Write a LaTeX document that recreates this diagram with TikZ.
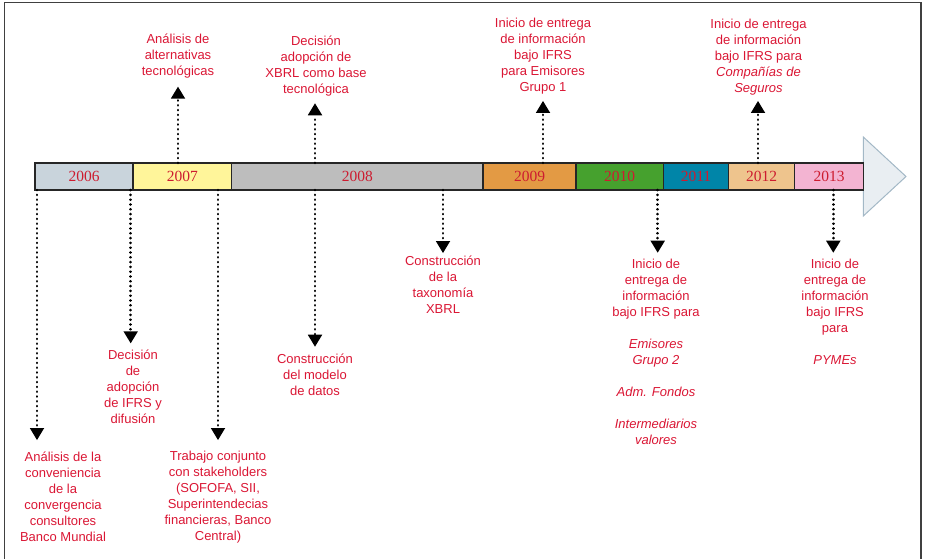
\documentclass[tikz,border=0pt]{standalone}
\usepackage{fontspec}
\setmainfont{Liberation Sans}
\newfontfamily\yrfont{Liberation Serif}
\usetikzlibrary{arrows.meta}
\definecolor{lblred}{RGB}{218,22,52}
\definecolor{yrred}{RGB}{205,28,48}
\definecolor{c2006}{HTML}{C9D4DC}
\definecolor{c2007}{HTML}{FFF59A}
\definecolor{c2008}{HTML}{BDBDBD}
\definecolor{c2009}{HTML}{E39A44}
\definecolor{c2010}{HTML}{46A12E}
\definecolor{c2011}{HTML}{0085A8}
\definecolor{c2012}{HTML}{EEC48D}
\definecolor{c2013}{HTML}{F3B4D2}
\definecolor{arrfill}{HTML}{E9EEF2}
\definecolor{arrline}{HTML}{A3B8C6}
\definecolor{framec}{HTML}{404040}
\newcommand\lstrut{\rule[-4.8pt]{0pt}{16pt}}
\tikzset{
  seg/.style={draw=black!85, line width=1.1pt, minimum height=27pt, inner sep=0pt, outer sep=0pt,
    font=\yrfont\fontsize{15.5}{18}\selectfont, text=yrred},
  lbl/.style={inner sep=0pt, align=center, text=lblred, font=\fontsize{13}{16}\selectfont,
    execute at begin node=\lstrut, execute at end node=\lstrut},
  dotarr/.style={line width=2.6pt, line cap=round, dash pattern=on 0.2pt off 4.6pt,
    -{Triangle[length=12pt,width=14.5pt,line width=0pt]}}
}
\begin{document}
\begin{tikzpicture}[x=1pt,y=-1pt]
\useasboundingbox (0,0) rectangle (927,559);
% frame
\draw[framec, line width=1.8pt] (4.5,559) -- (4.5,2.5) -- (921,2.5) -- (921,559);
% arrow head of the time line
\filldraw[fill=arrfill, draw=arrline, line width=1pt] (863.3,137) -- (906,176.5) -- (863.3,216) -- cycle;
% segments
\node[seg, fill=c2006, minimum width=98pt]   (s2006) at (84,176.5)    {2006};
\node[seg, fill=c2007, minimum width=98.5pt] (s2007) at (182.25,176.5) {2007};
\node[seg, fill=c2008, minimum width=251.5pt](s2008) at (357.25,176.5) {2008};
\node[seg, fill=c2009, minimum width=93pt]   (s2009) at (529.5,176.5)  {2009};
\node[seg, fill=c2010, minimum width=87.3pt] (s2010) at (619.65,176.5) {2010};
\node[seg, fill=c2011, minimum width=65.4pt] (s2011) at (696,176.5)    {2011};
\node[seg, fill=c2012, minimum width=66pt]   (s2012) at (761.7,176.5)  {2012};
\node[seg, fill=c2013, minimum width=68.6pt] (s2013) at (829,176.5)    {2013};

% up labels
\node[lbl, anchor=south, outer ysep=5.9pt] (u1) at (178,86.7) {Análisis de\\alternativas\\tecnológicas};
\node[lbl, anchor=south, outer ysep=4.5pt] (u2) at (316,103.3) {Decisión\\adopción de\\XBRL como base\\tecnológica};
\node[lbl, anchor=south, outer ysep=4.5pt] (u3) at (543,101) {Inicio de entrega\\de información\\bajo IFRS\\para Emisores\\Grupo 1};
\node[lbl, anchor=south, outer ysep=3.5pt] (u4) at (758.5,101) {Inicio de entrega\\de información\\bajo IFRS para\\\textit{Compañías de}\\\textit{Seguros}};

% down labels
\node[lbl, anchor=north, outer ysep=11.5pt] (d1) at (63,440) {Análisis de la\\conveniencia\\de la\\convergencia\\consultores\\Banco Mundial};
\node[lbl, anchor=north, outer ysep=6.2pt] (d2) at (133,343.3) {Decisión\\de\\adopción\\de IFRS y\\difusión};
\node[lbl, anchor=north, outer ysep=11.5pt] (d3) at (218,440) {Trabajo conjunto\\con stakeholders\\(SOFOFA, SII,\\Superintendecias\\financieras, Banco\\Central)};
\node[lbl, anchor=north, outer ysep=7.1pt] (d4) at (315,346.7) {Construcción\\del modelo\\de datos};
\node[lbl, anchor=north, outer ysep=2.5pt] (d5) at (443,253) {Construcción\\de la\\taxonomía\\XBRL};
\node[lbl, anchor=north, outer ysep=6.1pt] (d6) at (656,252.7) {Inicio de\\entrega de\\información\\bajo IFRS para\\[16pt]\textit{Emisores}\\\textit{Grupo 2}\\[16pt]\textit{Adm. Fondos}\\[16pt]\textit{Intermediarios}\\\textit{valores}};
\node[lbl, anchor=north, outer ysep=6.1pt] (d7) at (835,252.7) {Inicio de\\entrega de\\información\\bajo IFRS\\para\\[16pt]\textit{PYMEs}};

% start points on the bar
\coordinate (pu1) at (178,163);
\coordinate (pu2) at (315,163);
\coordinate (pu3) at (543,163);
\coordinate (pu4) at (758,163);
\coordinate (pd1) at (37,190);
\coordinate (pd2) at (130.7,190);
\coordinate (pd3) at (218,190);
\coordinate (pd4) at (315,190);
\coordinate (pd5) at (443,190);
\coordinate (pd6) at (657.7,190);
\coordinate (pd7) at (833.3,190);

\draw[dotarr] (pu1) -- (pu1 |- u1.south);
\draw[dotarr] (pu2) -- (pu2 |- u2.south);
\draw[dotarr] (pu3) -- (pu3 |- u3.south);
\draw[dotarr] (pu4) -- (pu4 |- u4.south);
\draw[dotarr] (pd1) -- (pd1 |- d1.north);
\draw[dotarr] (pd2) -- (pd2 |- d2.north);
\draw[dotarr] (pd3) -- (pd3 |- d3.north);
\draw[dotarr] (pd4) -- (pd4 |- d4.north);
\draw[dotarr] (pd5) -- (pd5 |- d5.north);
\draw[dotarr] (pd6) -- (pd6 |- d6.north);
\draw[dotarr] (pd7) -- (pd7 |- d7.north);
\end{tikzpicture}
\end{document}
